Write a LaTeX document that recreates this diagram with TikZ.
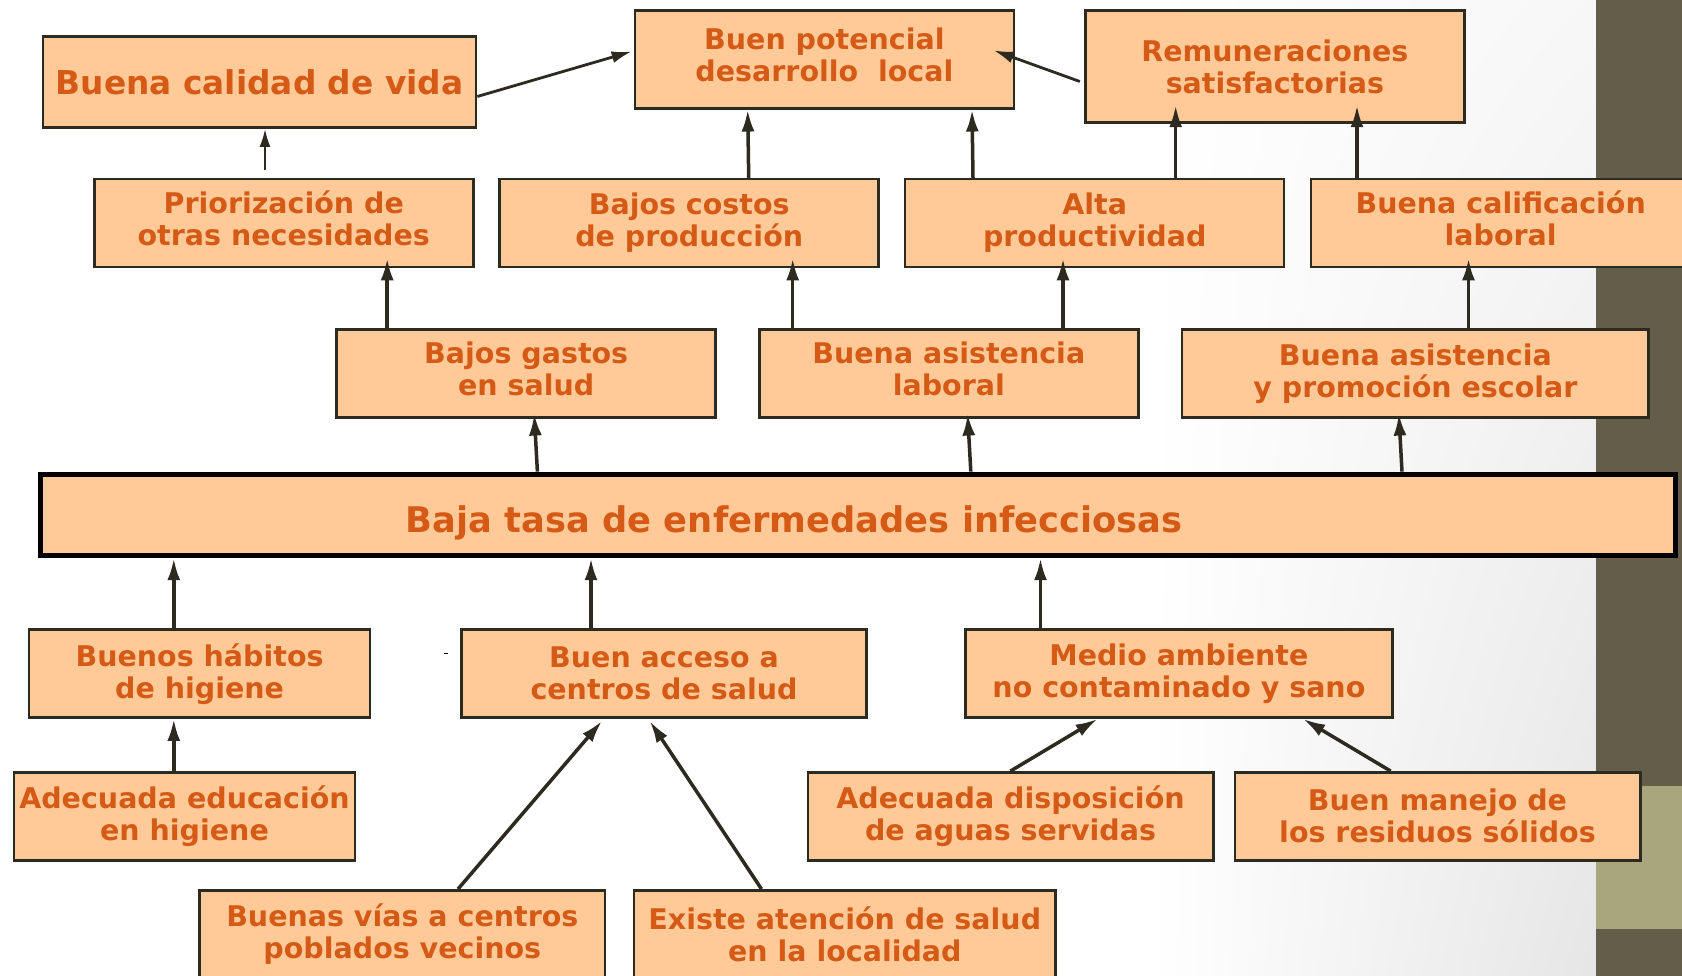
\documentclass[tikz,border=0pt]{standalone}
\usepackage{fontspec}
\setmainfont{DejaVu Sans}
\usetikzlibrary{arrows.meta,shadings}
\definecolor{boxfill}{RGB}{255,202,152}
\definecolor{txt}{RGB}{213,90,22}
\definecolor{edge}{RGB}{45,42,32}
\definecolor{olive}{RGB}{100,93,74}
\definecolor{olivelight}{RGB}{169,166,126}
\newcommand{\liftlines}[2]{\raisebox{#1}{\begin{tabular}{@{}c@{}}#2\end{tabular}}}
\begin{document}
\begin{tikzpicture}[x=1pt,y=-1pt,
  box/.style={draw=edge, line width=2.5pt, fill=boxfill, text=txt,
    font=\fontsize{28.5}{32}\selectfont\bfseries, align=center,
    inner sep=0pt, minimum height=88pt},
  arr/.style={draw=edge, line width=3.5pt, -{Latex[length=22pt,width=13pt]}},
  thinarr/.style={draw=edge, line width=2.2pt, -{Latex[length=18pt,width=11pt]}},
  midarr/.style={draw=edge, line width=2.8pt, -{Latex[length=20pt,width=12pt]}}]
\useasboundingbox (0,0) rectangle (1682,976);
% background
\fill[white] (0,0) rectangle (1682,976);
\shade[upper left=white, lower left=white, upper right=black!3, lower right=black!10] (1150,0) rectangle (1596,976);
\fill[olive] (1596,0) rectangle (1682,976);
\fill[olivelight] (1596,786) rectangle (1682,929);
% top row
\node[box, minimum width=433pt, minimum height=91pt,
  font=\fontsize{32.8}{36}\selectfont\bfseries] (calidad) at (259.6,82.1) {Buena calidad de vida};
\node[box, minimum width=379pt, minimum height=97.6pt] (potencial) at (824.4,59.5) {\liftlines{4pt}{Buen potencial\\desarrollo\ \ local}};
\node[box, minimum width=379pt, minimum height=111.6pt] (remun) at (1274.9,66.5) {Remuneraciones\\satisfactorias};
% second row
\node[box, minimum width=379pt] (prior) at (283.8,223.1) {\liftlines{3pt}{Priorización de\\otras necesidades}};
\node[box, minimum width=379pt] (costos) at (689.2,223.1) {Bajos costos\\de producción};
\node[box, minimum width=379pt] (alta) at (1094.7,223.1) {Alta\\productividad};
\node[box, minimum width=379.6pt] (calif) at (1500.7,223.1) {\liftlines{3pt}{Buena calificación\\laboral}};
% third row
\node[box, minimum width=379pt] (gastos) at (526.2,373.3) {\liftlines{3pt}{Bajos gastos\\en salud}};
\node[box, minimum width=379pt] (asistlab) at (948.8,373.3) {\liftlines{3pt}{Buena asistencia\\laboral}};
\node[box, minimum width=466.6pt] (asistesc) at (1415.4,373.3) {Buena asistencia\\y promoción escolar};
% main
\node[box, draw=black, line width=5pt, minimum width=1634.8pt, minimum height=81.6pt,
  font=\fontsize{35.3}{40}\selectfont\bfseries] (main) at (858.2,514.9)
  {\raisebox{-17.5pt}[0pt][0pt]{\hspace*{-128pt}Baja tasa de enfermedades infecciosas}};
% lower rows
\node[box, minimum width=341pt] (habitos) at (199.6,673.7) {Buenos hábitos\\de higiene};
\node[box, minimum width=405.4pt] (acceso) at (664,673.7) {Buen acceso a\\centros de salud};
\node[box, minimum width=427pt] (medio) at (1178.9,673.7) {Medio ambiente\\no contaminado y sano};
\node[box, minimum width=341.2pt] (educ) at (184.5,816.3) {Adecuada educación\\en higiene};
\node[box, minimum width=405.5pt] (aguas) at (1010.5,816.3) {Adecuada disposición\\de aguas servidas};
\node[box, minimum width=405.5pt] (residuos) at (1437.5,816.3) {Buen manejo de\\los residuos sólidos};
\node[box, minimum width=405.5pt] (vias) at (402.3,934.3) {Buenas vías a centros\\poblados vecinos};
\node[box, minimum width=421.5pt] (existe) at (844.8,934.3) {Existe atención de salud\\en la localidad};
% small mark
\draw[line width=1pt] (444,653) -- (448,653);
% connectors
\draw[thinarr] ([xshift=-18.8pt, yshift=7.5pt]prior.north) -- ([xshift=5.4pt]calidad.south);
\draw[midarr] ([yshift=-14.4pt]calidad.east) -- ([xshift=-2pt, yshift=8pt]potencial.west);
\draw[midarr] ([xshift=-4.3pt, yshift=-15pt]remun.west) -- ([xshift=-21.5pt, yshift=9.1pt]potencial.east);
\draw[arr] ([xshift=59.5pt]costos.north) -- ([xshift=-76.7pt]potencial.south);
\draw[arr] ([xshift=-121.7pt]alta.north) -- ([xshift=147.6pt]potencial.south);
\draw[arr] ([xshift=81pt]alta.north) -- ([xshift=-99.2pt, yshift=18.3pt]remun.south);
\draw[arr] ([xshift=-143.7pt]calif.north) -- ([xshift=82.1pt, yshift=18.3pt]remun.south);
\draw[arr] ([xshift=-139pt]gastos.north) -- ([xshift=103.4pt, yshift=10pt]prior.south);
\draw[arr] ([xshift=-156.1pt]asistlab.north) -- ([xshift=103.5pt, yshift=10pt]costos.south);
\draw[arr] ([xshift=114.2pt]asistlab.north) -- ([xshift=-31.7pt, yshift=10pt]alta.south);
\draw[arr] ([xshift=53.1pt]asistesc.north) -- ([xshift=-32.2pt, yshift=10pt]calif.south);
\draw[arr] ([xshift=-320.8pt]main.north) -- ([xshift=8pt, yshift=5pt]gastos.south);
\draw[arr] ([xshift=112.6pt]main.north) -- ([xshift=18.8pt, yshift=5pt]asistlab.south);
\draw[arr] ([xshift=543.8pt]main.north) -- ([xshift=-16.6pt, yshift=5pt]asistesc.south);
\draw[arr] ([xshift=-25.8pt]habitos.north) -- ([xshift=-684.4pt]main.south);
\draw[arr] ([xshift=-73pt]acceso.north) -- ([xshift=-267.2pt]main.south);
\draw[arr] ([xshift=-138.4pt]medio.north) -- ([xshift=182.3pt]main.south);
\draw[arr] ([xshift=-10.7pt]educ.north) -- ([xshift=-25.8pt]habitos.south);
\draw[arr] ([xshift=55.7pt]vias.north) -- ([xshift=-62pt, yshift=-2pt]acceso.south);
\draw[arr] ([xshift=-83.3pt]existe.north) -- ([xshift=-14.3pt, yshift=-2pt]acceso.south);
\draw[arr] (aguas.north) -- ([xshift=-81.3pt]medio.south);
\draw[arr] ([xshift=-46.9pt]residuos.north) -- ([xshift=124.3pt]medio.south);
\end{tikzpicture}
\end{document}
